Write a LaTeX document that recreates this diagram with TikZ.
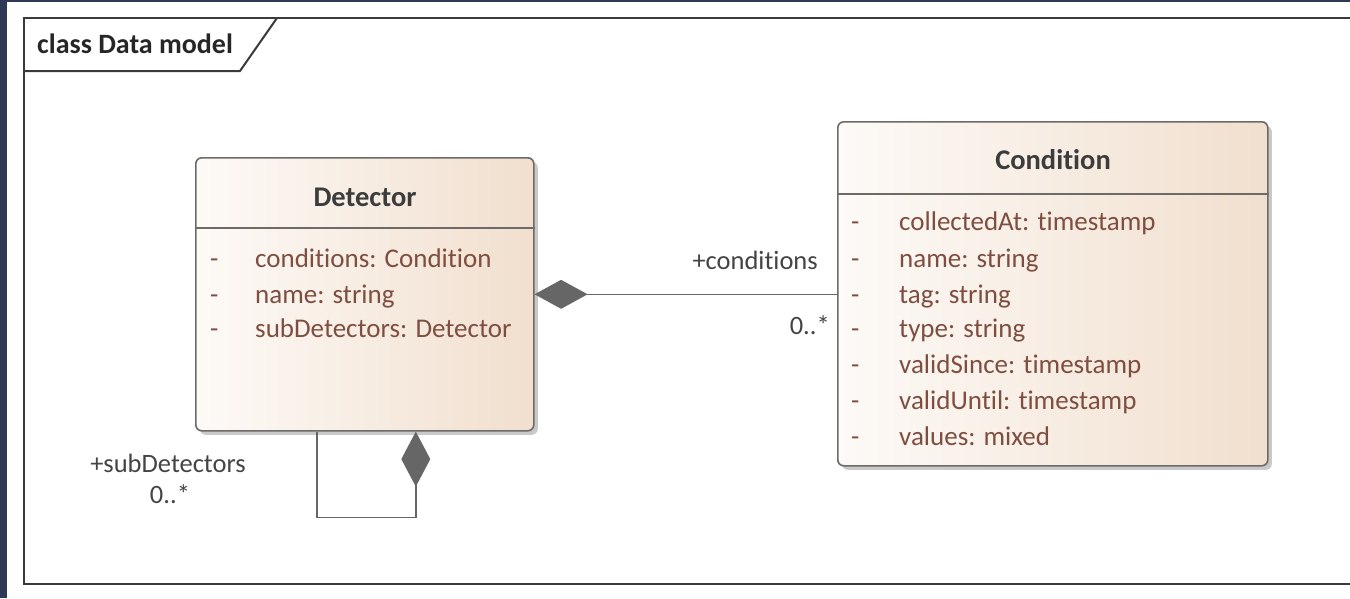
\documentclass[tikz,border=0pt]{standalone}
\usepackage{fontspec}
\setmainfont{Carlito}[Ligatures={NoCommon}]
\usetikzlibrary{arrows.meta,shadows}
\definecolor{navy}{HTML}{2E3A55}
\definecolor{framec}{HTML}{3A3A3A}
\definecolor{boxline}{HTML}{6E6A68}
\definecolor{boxleft}{HTML}{FDFAF7}
\definecolor{boxright}{HTML}{F1DFCE}
\definecolor{attrc}{HTML}{7E4E40}
\definecolor{titlec}{HTML}{3C3C3C}
\definecolor{labelc}{HTML}{444444}
\definecolor{conn}{HTML}{666666}
\tikzset{
  classbox/.style={draw=boxline, line width=1.6pt, rounded corners=6pt,
    left color=boxleft, right color=boxright, anchor=north west, inner sep=0pt,
    drop shadow={shadow xshift=4pt, shadow yshift=-4pt, opacity=0.35, fill=black!60}},
  ctitle/.style={font=\fontsize{28.5}{32}\selectfont\bfseries, text=titlec},
  attr/.style={font=\fontsize{27}{31}\selectfont, text=attrc, anchor=base west, inner sep=0pt},
  lbl/.style={font=\fontsize{26.5}{30}\selectfont, text=labelc, inner sep=0pt},
  divider/.style={draw=boxline, line width=1.6pt},
  compo/.style={draw=conn, line width=1.6pt},
}
\begin{document}
\begin{tikzpicture}[x=1pt,y=-1pt]
\useasboundingbox (0,0) rectangle (1350,598);
\fill[white] (0,0) rectangle (1350,598);
\fill[navy] (0,0) rectangle (7,598);
\fill[navy] (7,0) rectangle (1350,2);
% frame
\draw[framec, line width=2pt] (1352,18) -- (24,18) -- (24,584) -- (1352,584);
\draw[framec, line width=2pt] (24,71) -- (240,71) -- (277,18);
\node[font=\fontsize{28}{32}\selectfont\bfseries, text=black!85, anchor=west, inner sep=0pt] (title) at (37,44) {class Data model};

% Detector
\node[classbox, minimum width=338pt, minimum height=273pt] (det) at (195,157) {};
\draw[divider] (det.west |- 0,228) -- (det.east |- 0,228);
\node[ctitle] (dett) at (365,197) {Detector};
\node[attr] (d1m) at (210,267) {-};
\node[attr] (d1) at (255,267) {conditions: Condition};
\node[attr] (d2m) at (210,303) {-};
\node[attr] (d2) at (255,303) {name: string};
\node[attr] (d3m) at (210,337) {-};
\node[attr] (d3) at (255,337) {subDetectors: Detector};

% Condition
\node[classbox, minimum width=430pt, minimum height=344pt] (cond) at (837,121) {};
\draw[divider] (cond.west |- 0,194) -- (cond.east |- 0,194);
\node[ctitle] (condt) at (1053,160) {Condition};
\node[attr] (c1m) at (851,230) {-};
\node[attr] (c1) at (899,230) {collectedAt: timestamp};
\node[attr] (c2m) at (851,267) {-};
\node[attr] (c2) at (899,267) {name: string};
\node[attr] (c3m) at (851,303) {-};
\node[attr] (c3) at (899,303) {tag: string};
\node[attr] (c4m) at (851,337) {-};
\node[attr] (c4) at (899,337) {type: string};
\node[attr] (c5m) at (851,373) {-};
\node[attr] (c5) at (899,373) {validSince: timestamp};
\node[attr] (c6m) at (851,409) {-};
\node[attr] (c6) at (899,409) {validUntil: timestamp};
\node[attr] (c7m) at (851,445) {-};
\node[attr] (c7) at (899,445) {values: mixed};

% composition Detector -> Condition
\draw[compo, {Diamond[length=53pt,width=29pt,fill=conn]}-] (det.east) -- (det.east -| cond.west);
\node[lbl, anchor=east] (l1) at (818,260) {+conditions};
\node[lbl, anchor=east] (l2) at (830,325) {0..*};

% self composition
\coordinate (sa) at ([xshift=51pt]det.south);
\coordinate (sb) at ([xshift=-48pt]det.south);
\draw[compo, {Diamond[length=55pt,width=29pt,fill=conn]}-] (sa) -- ++(0,86) -| (sb);
\node[lbl] (l3) at (168,463) {+subDetectors};
\node[lbl] (l4) at (170,494) {0..*};
\end{tikzpicture}
\end{document}
